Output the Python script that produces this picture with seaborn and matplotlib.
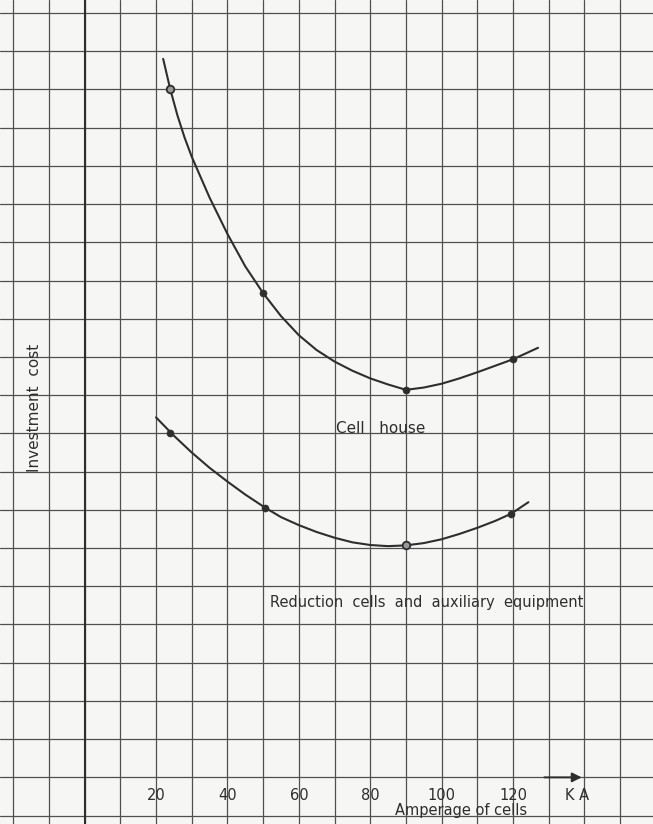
import matplotlib
matplotlib.use("Agg")
import matplotlib.pyplot as plt
import seaborn as sns
import pandas as pd

# curves (x in KA, y in grid squares above the axis)
house_x = [22, 24, 26, 28, 30, 35, 40, 45, 50, 55, 60, 65, 70, 75, 80, 85, 90,
           95, 100, 105, 110, 115, 120, 127]
house_y = [18.8, 18.0, 17.32, 16.74, 16.24, 15.17, 14.22, 13.37, 12.67, 12.07, 11.57, 11.18,
           10.88, 10.64, 10.44, 10.28, 10.14, 10.2, 10.3, 10.44, 10.6, 10.77, 10.94, 11.24]
house_pts_x = [24, 50, 90, 120]
house_pts_y = [18.0, 12.67, 10.14, 10.94]

cells_x = [20, 25, 30, 35, 40, 45, 50.5, 55, 60, 65, 70, 75, 80, 85, 90, 95, 100,
           105, 110, 115, 119.5, 124.3]
cells_y = [9.42, 8.94, 8.5, 8.1, 7.74, 7.4, 7.06, 6.81, 6.6, 6.42, 6.27, 6.15, 6.08, 6.05,
           6.07, 6.13, 6.23, 6.37, 6.53, 6.71, 6.9, 7.2]
cells_pts_x = [24, 50.5, 90, 119.5]
cells_pts_y = [9.0, 7.06, 6.07, 6.9]

tick_values = [20, 40, 60, 80, 100, 120]
tick_labels = ["20", "40", "60", "80", "100", "120"]

ink = "#2e2e2e"
paper = "#f6f6f4"

sns.set_theme(style="white")
plt.rcParams["font.family"] = ["DejaVu Sans"]

fig = plt.figure(figsize=(6.53, 8.24), dpi=100, facecolor=paper)
ax = fig.add_axes([0, 0, 1, 1])
ax.set_facecolor(paper)

# graph paper grid
ax.set_xlim(-23.7, 159.2)
ax.set_ylim(-1.22, 20.34)
ax.set_xticks(range(-20, 160, 10))
ax.set_yticks(range(-1, 21))
ax.grid(True, color="#505050", linewidth=0.9)
ax.tick_params(length=0, labelbottom=False, labelleft=False)
for s in ax.spines.values():
    s.set_visible(False)
ax.axvline(0, color=ink, linewidth=1.5)

# curves
df_house = pd.DataFrame({"x": house_x, "y": house_y})
df_cells = pd.DataFrame({"x": cells_x, "y": cells_y})
sns.lineplot(data=df_house, x="x", y="y", ax=ax, color=ink, linewidth=1.5, sort=False)
sns.lineplot(data=df_cells, x="x", y="y", ax=ax, color=ink, linewidth=1.5, sort=False)
sns.scatterplot(x=house_pts_x, y=house_pts_y, ax=ax, color=ink, s=26, edgecolor=ink, zorder=5)
sns.scatterplot(x=cells_pts_x, y=cells_pts_y, ax=ax, color=ink, s=26, edgecolor=ink, zorder=5)
# two of the points are drawn as small rings
sns.scatterplot(x=house_pts_x[:1], y=house_pts_y[:1], ax=ax, color="#9a9a9a", s=30,
                edgecolor=ink, linewidth=1.3, zorder=6)
sns.scatterplot(x=cells_pts_x[2:3], y=cells_pts_y[2:3], ax=ax, color="#9a9a9a", s=30,
                edgecolor=ink, linewidth=1.3, zorder=6)
ax.set_xlabel("")
ax.set_ylabel("")

# x axis arrow
ax.annotate("", xy=(140, 0), xytext=(128, 0),
            arrowprops=dict(arrowstyle="-|>", color=ink, lw=1.4, mutation_scale=14))

# labels
for v, t in zip(tick_values, tick_labels):
    ax.text(v, -0.47, t, ha="center", va="center", fontsize=10.5, color=ink)
ax.text(138, -0.47, "K A", ha="center", va="center", fontsize=10.5, color=ink)
ax.text(105.5, -0.86, "Amperage of cells", ha="center", va="center", fontsize=10.5, color=ink)
ax.text(-14.0, 9.66, "Investment  cost", ha="center", va="center", rotation=90,
        fontsize=11, color=ink)
ax.text(83, 9.13, "Cell   house", ha="center", va="center", fontsize=11, color=ink)
ax.text(51.9, 4.58, "Reduction  cells  and  auxiliary  equipment", ha="left", va="center",
        fontsize=10.5, color=ink)

fig.savefig("out.png", dpi=100, facecolor=paper)
